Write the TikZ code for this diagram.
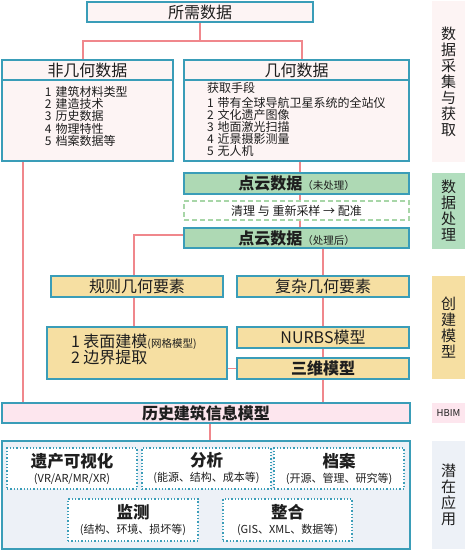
\documentclass[tikz,border=0pt]{standalone}
\usepackage{fontspec}
\setmainfont{Noto Sans CJK SC}
\usetikzlibrary{backgrounds}
\definecolor{bd}{RGB}{58,157,184}
\definecolor{lk}{RGB}{240,135,140}
\definecolor{pinkA}{RGB}{253,244,244}
\definecolor{pinkB}{RGB}{253,230,238}
\definecolor{grn}{RGB}{174,217,180}
\definecolor{grnL}{RGB}{178,222,190}
\definecolor{grnD}{RGB}{168,214,168}
\definecolor{org}{RGB}{246,223,162}
\definecolor{blu}{RGB}{237,241,247}
\definecolor{txt}{RGB}{30,30,30}
\newcommand\fs[1]{\fontsize{#1}{#1}\selectfont}
\begin{document}
\begin{tikzpicture}[x=1pt,y=-1pt,
  box/.style={draw=bd, line width=1.6pt, inner sep=0pt, outer sep=0pt, anchor=north west, text=txt, align=center},
  lab/.style={inner sep=0pt, outer sep=0pt, anchor=north west, text=txt, align=center},
  dotbox/.style={draw=bd, line width=1.3pt, dotted, inner sep=0pt, outer sep=0pt, anchor=north west, text=txt, align=center, fill=white},
  conn/.style={draw=lk, line width=1.2pt},
  vlab/.style={font=\fontsize{15}{16}\selectfont, align=center, text=txt}]
\useasboundingbox (0,0) rectangle (465,550);
% ---- data acquisition
\node[box, fill=pinkA, minimum width=226pt, minimum height=20pt, font=\fs{16}] (top) at (87,2) {所需数据};
\node[box, fill=pinkA, minimum width=171pt, minimum height=101pt] (nongeo) at (2,60) {};
\node[box, fill=pinkA, minimum width=171pt, minimum height=20pt, font=\fs{16}] (nongeoH) at (2,60) {非几何数据};
\node[lab, anchor=north west, align=left, font=\fs{12}, text width=125pt] (nongeoT) at (45,86)
  {\baselineskip=12.4pt 1 建筑材料类型\\2 建造技术\\3 历史数据\\4 物理特性\\5 档案数据等};
\node[box, fill=pinkA, minimum width=225pt, minimum height=101pt] (geo) at (184,60) {};
\node[box, fill=pinkA, minimum width=225pt, minimum height=20pt, font=\fs{16}] (geoH) at (184,60) {几何数据};
\node[lab, align=left, font=\fs{12}] (geoT0) at (207,82) {获取手段};
\node[lab, align=left, font=\fs{12}, text width=200pt] (geoT) at (207,97)
  {\baselineskip=12.2pt 1 带有全球导航卫星系统的全站仪\\2 文化遗产图像\\3 地面激光扫描\\4 近景摄影测量\\5 无人机};
\node[lab, fill=pinkA, minimum width=33pt, minimum height=161pt] (lab1) at (432,1) {};
\node[vlab] at (lab1.center) {数\\据\\采\\集\\与\\获\\取};
% ---- processing
\node[box, fill=grn, minimum width=225pt, minimum height=21pt] (pc1) at (184,173) {\fs{16}\textbf{点云数据}\fs{10.5}（未处理）};
\node[box, draw=grnD, dashed, dash pattern=on 5pt off 3pt, line width=1.3pt, fill=white, minimum width=225pt, minimum height=19pt, font=\fs{12}] (clean) at (184,201) {清理 与 重新采样 → 配准};
\node[box, fill=grn, minimum width=225pt, minimum height=20pt] (pc2) at (184,228) {\fs{16}\textbf{点云数据}\fs{10.5}（处理后）};
\node[lab, fill=grnL, minimum width=33pt, minimum height=76pt] (lab2) at (432,173) {};
\node[vlab] at (lab2.center) {数\\据\\处\\理};
% ---- modelling
\node[box, fill=org, minimum width=172pt, minimum height=21pt, font=\fs{16}] (rule) at (51,276) {规则几何要素};
\node[box, fill=org, minimum width=172pt, minimum height=21pt, font=\fs{16}] (complex) at (237,276) {复杂几何要素};
\node[box, fill=org, minimum width=180pt, minimum height=52pt] (surf) at (47,327) {};
\node[lab, align=left, font=\fs{16}] (surfT) at (71,334) {\baselineskip=20.5pt 1 表面建模{\fs{10.5}(网格模型)}\\2 边界提取};
\node[box, fill=org, minimum width=172pt, minimum height=21pt, font=\fs{16}] (nurbs) at (237,327) {NURBS模型};
\node[box, fill=org, minimum width=172pt, minimum height=21pt, font=\fs{16}\bfseries] (three) at (237,358) {三维模型};
\node[lab, fill=org, minimum width=33pt, minimum height=103pt] (lab3) at (432,276) {};
\node[vlab] at (lab3.center) {创\\建\\模\\型};
% ---- HBIM
\node[box, fill=pinkB, minimum width=408pt, minimum height=20pt, font=\fs{16}\bfseries] (hbim) at (2,403) {历史建筑信息模型};
\node[lab, fill=pinkB, minimum width=33pt, minimum height=20pt, font=\fs{9.5}] (lab4) at (432,403) {HBIM};
% ---- applications
\node[box, fill=blu, minimum width=408pt, minimum height=108pt] (app) at (2,441) {};
\node[lab, fill=blu, minimum width=33pt, minimum height=108pt] (lab5) at (432,441) {};
\node[vlab] at (lab5.center) {潜\\在\\应\\用};
\node[dotbox, minimum width=130pt, minimum height=41pt] (a1) at (7,448) {\fs{16.5}\textbf{遗产可视化}\\[3pt]\fs{11}(VR/AR/MR/XR)};
\node[dotbox, minimum width=129pt, minimum height=41pt] (a2) at (142,448) {\fs{16.5}\textbf{分析}\\[3pt]\fs{11}(能源、结构、成本等)};
\node[dotbox, minimum width=130pt, minimum height=41pt] (a3) at (274,448) {\fs{16.5}\textbf{档案}\\[3pt]\fs{11}(开源、管理、研究等)};
\node[dotbox, minimum width=130pt, minimum height=42pt] (a4) at (68,499) {\fs{16.5}\textbf{监测}\\[3pt]\fs{11}(结构、环境、损坏等)};
\node[dotbox, minimum width=129pt, minimum height=42pt] (a5) at (223,499) {\fs{16.5}\textbf{整合}\\[3pt]\fs{11}(GIS、XML、数据等)};
% ---- connectors
\begin{pgfonlayer}{background}
\draw[conn] (top.south) -- ++(0,19) coordinate (j1);
\draw[conn] ([xshift=-4.5pt]nongeoH.north) |- (j1) -| ([xshift=5.5pt]geoH.north);
\coordinate (L1) at ([xshift=-64.5pt]nongeo.south);
\draw[conn] (L1) -- (L1 |- hbim.north);
\coordinate (g1) at ([xshift=3.5pt]geo.south);
\coordinate (j2) at ([yshift=13pt]g1 |- pc2.south);
\draw[conn] (g1) -- (j2);
\draw[conn] ([xshift=-3pt]rule.north) |- (j2) -| (complex.north);
\coordinate (r1) at ([xshift=-3pt]rule.south);
\draw[conn] (r1) -- (r1 |- surf.north);
\draw[conn] (complex.south) -- (complex.south |- hbim.north);
\draw[conn] (three.west -| surf.east) -- (three.west);
\coordinate (h1) at ([xshift=4pt]hbim.south);
\draw[conn] (h1) -- (h1 |- app.north);
\end{pgfonlayer}
\end{tikzpicture}
\end{document}
